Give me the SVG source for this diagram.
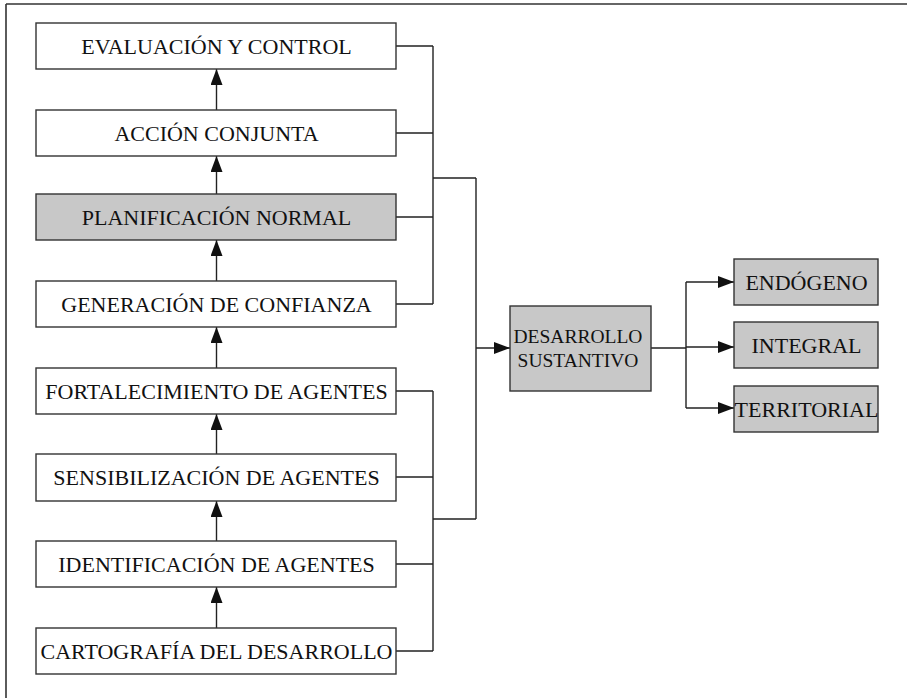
<svg xmlns="http://www.w3.org/2000/svg" width="907" height="698" viewBox="0 0 907 698">
<defs>
<style>
.box{fill:#ffffff;stroke:#333333;stroke-width:1.4}
.gray{fill:#c8c8c8;stroke:#333333;stroke-width:1.4}
text{fill:#111111;text-anchor:middle;font-family:"Liberation Serif","Times New Roman",serif}
.t{font-size:22px}
.ts{font-size:19.5px}
.ln{fill:none;stroke:#222222;stroke-width:1.4}
.ar{fill:none;stroke:#222222;stroke-width:1.4;marker-end:url(#ah)}
</style>
<marker id="ah" markerUnits="userSpaceOnUse" markerWidth="16" markerHeight="12" viewBox="0 0 16 12" refX="16" refY="6" orient="auto">
<path d="M0,0 L16,6 L0,12 Z" fill="#111111"/>
</marker>
</defs>
<rect width="907" height="698" fill="#ffffff"/>
<g id="frame">
<line x1="6" y1="4" x2="907" y2="4" stroke="#333333" stroke-width="1.6"/>
<line x1="6" y1="4" x2="6" y2="698" stroke="#333333" stroke-width="1.6"/>
</g>
<g id="connectors">
<path class="ar" d="M216.5,110 V69"/>
<path class="ar" d="M216.5,194 V156"/>
<path class="ar" d="M216.5,281 V240"/>
<path class="ar" d="M216.5,368 V327"/>
<path class="ar" d="M216.5,454 V414"/>
<path class="ar" d="M216.5,541 V501"/>
<path class="ar" d="M216.5,628 V587"/>
<path class="ln" d="M396,46 H433 M396,133 H433 M396,217 H433 M396,304 H433 M433,46 V304 M433,178 H476"/>
<path class="ln" d="M396,391 H433 M396,477 H433 M396,564 H433 M396,651 H433 M433,391 V651 M433,519 H476"/>
<path class="ln" d="M476,178 V519"/>
<path class="ar" d="M476,348 H510"/>
<path class="ln" d="M651,348 H686 M686,282 V408"/>
<path class="ar" d="M686,282 H734"/>
<path class="ar" d="M686,347 H734"/>
<path class="ar" d="M686,408 H734"/>
</g>
<g id="n1"><rect class="box" x="36" y="23" width="360" height="46"/><text class="t" x="216.5" y="54">EVALUACIÓN Y CONTROL</text></g>
<g id="n2"><rect class="box" x="36" y="110" width="360" height="46"/><text class="t" x="216.5" y="141">ACCIÓN CONJUNTA</text></g>
<g id="n3"><rect class="gray" x="36" y="194" width="360" height="46"/><text class="t" x="216.5" y="225">PLANIFICACIÓN NORMAL</text></g>
<g id="n4"><rect class="box" x="36" y="281" width="360" height="46"/><text class="t" x="216.5" y="312">GENERACIÓN DE CONFIANZA</text></g>
<g id="n5"><rect class="box" x="36" y="368" width="360" height="46"/><text class="t" x="216.5" y="399">FORTALECIMIENTO DE AGENTES</text></g>
<g id="n6"><rect class="box" x="36" y="454" width="360" height="47"/><text class="t" x="216.5" y="485">SENSIBILIZACIÓN DE AGENTES</text></g>
<g id="n7"><rect class="box" x="36" y="541" width="360" height="46"/><text class="t" x="216.5" y="572">IDENTIFICACIÓN DE AGENTES</text></g>
<g id="n8"><rect class="box" x="36" y="628" width="360" height="46"/><text class="t" x="216.5" y="659">CARTOGRAFÍA DEL DESARROLLO</text></g>
<g id="n9"><rect class="gray" x="510" y="306" width="141" height="85"/><text class="ts" x="578" y="343">DESARROLLO</text><text class="ts" x="578" y="366.5">SUSTANTIVO</text></g>
<g id="n10"><rect class="gray" x="734" y="259" width="144" height="46"/><text class="t" x="806.5" y="290">ENDÓGENO</text></g>
<g id="n11"><rect class="gray" x="734" y="322" width="144" height="46"/><text class="t" x="806.5" y="353">INTEGRAL</text></g>
<g id="n12"><rect class="gray" x="734" y="386" width="144" height="46"/><text class="t" x="806.5" y="417">TERRITORIAL</text></g>
</svg>
